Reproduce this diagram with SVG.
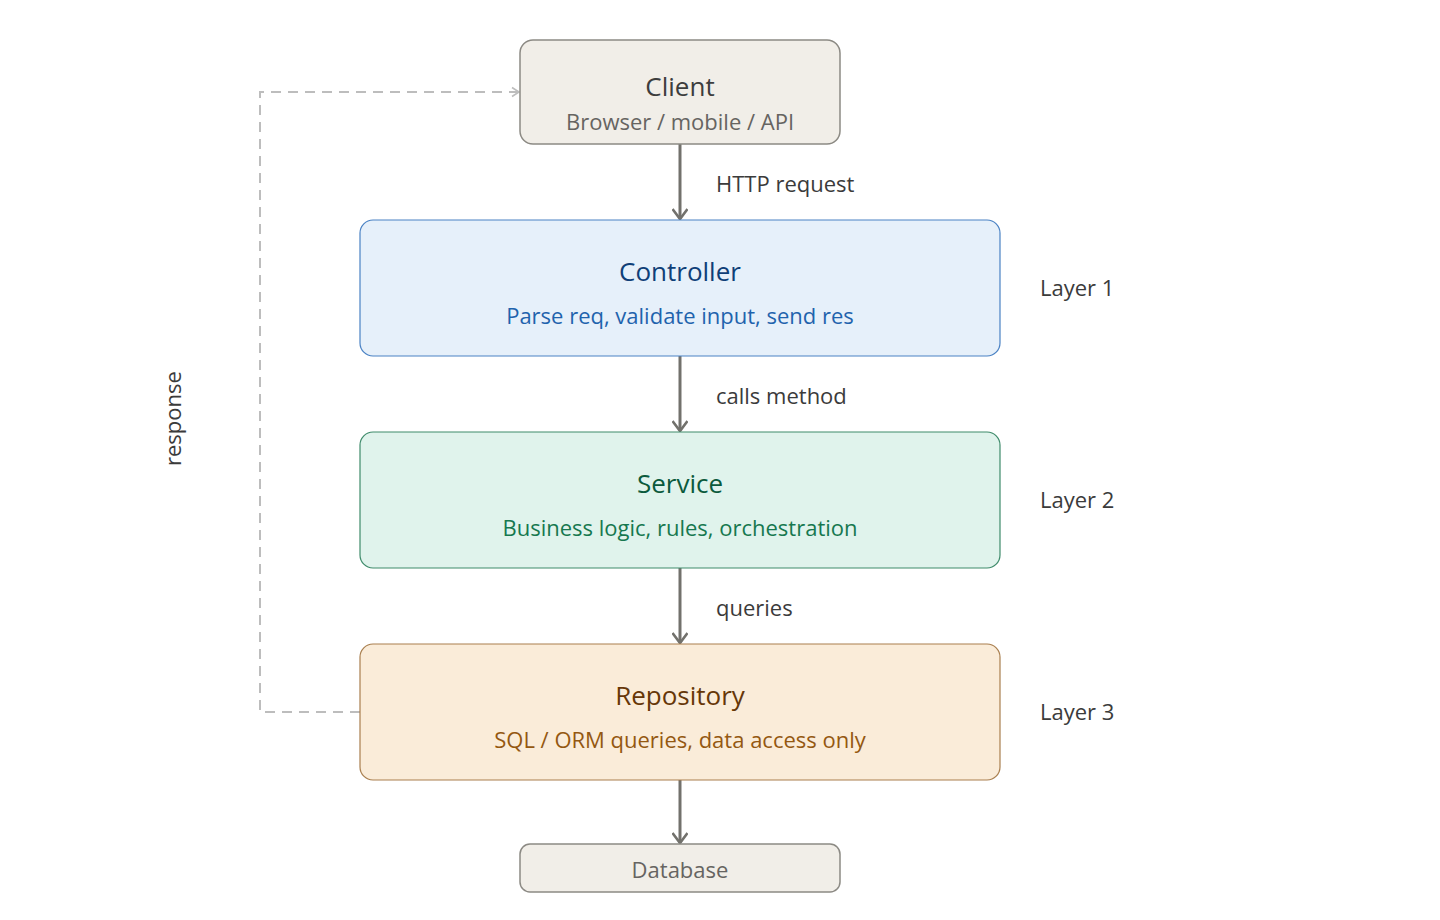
<svg xmlns="http://www.w3.org/2000/svg" width="1440" height="920" viewBox="0 0 1440 920">
<style>
text{font-family:"Open Sans","Noto Sans","Liberation Sans",sans-serif;text-anchor:middle}
.t{font-size:26px}
.s{font-size:22px}
.lbl{font-size:22px;fill:#3b3b3b;text-anchor:start}
.conn{stroke:#72716c;stroke-width:3;fill:none}
.resp{stroke:#bdbdbd;stroke-width:2;fill:none;stroke-dasharray:10 7}
</style>
<defs>
<marker id="ah" viewBox="0 0 16 16" refX="12" refY="8" markerWidth="16" markerHeight="16" markerUnits="userSpaceOnUse" orient="auto">
<path d="M2,0.5 L12,8 L2,15.5" fill="none" stroke="#72716c" stroke-width="2.6"/>
</marker>
<marker id="ahr" viewBox="0 0 12 12" refX="10" refY="6" markerWidth="12" markerHeight="12" markerUnits="userSpaceOnUse" orient="auto">
<path d="M3,1.5 L10,6 L3,10.5" fill="none" stroke="#bdbdbd" stroke-width="1.6"/>
</marker>
</defs>
<rect width="1440" height="920" fill="#ffffff"/>
<g id="connectors">
<line class="conn" x1="680" y1="144" x2="680" y2="219" marker-end="url(#ah)"/>
<line class="conn" x1="680" y1="356" x2="680" y2="431" marker-end="url(#ah)"/>
<line class="conn" x1="680" y1="568" x2="680" y2="643" marker-end="url(#ah)"/>
<line class="conn" x1="680" y1="780" x2="680" y2="843" marker-end="url(#ah)"/>
<path class="resp" d="M360,712 H260 V92 H519" marker-end="url(#ahr)"/>
<text class="lbl" x="716" y="192">HTTP request</text>
<text class="lbl" x="716" y="404">calls method</text>
<text class="lbl" x="716" y="616">queries</text>
<text class="lbl" transform="translate(181,466) rotate(-90)">response</text>
</g>
<g id="client">
<rect x="520" y="40" width="320" height="104" rx="13" fill="#f1eee8" stroke="#8c8a84" stroke-width="1.5"/>
<text class="t" x="680" y="96" fill="#3d3d3d">Client</text>
<text class="s" x="680" y="130" fill="#666461">Browser / mobile / API</text>
</g>
<g id="controller">
<rect x="360" y="220" width="640" height="136" rx="13" fill="#e6f0fa" stroke="#4a82c4" stroke-width="1.2"/>
<text class="t" x="680" y="281" fill="#0f3f78">Controller</text>
<text class="s" x="680" y="324" fill="#1f63ad">Parse req, validate input, send res</text>
</g>
<g id="service">
<rect x="360" y="432" width="640" height="136" rx="13" fill="#e0f3ec" stroke="#3f8b6b" stroke-width="1.2"/>
<text class="t" x="680" y="493" fill="#0b5a3c">Service</text>
<text class="s" x="680" y="536" fill="#16784f">Business logic, rules, orchestration</text>
</g>
<g id="repository">
<rect x="360" y="644" width="640" height="136" rx="13" fill="#faecd9" stroke="#a97f4f" stroke-width="1.2"/>
<text class="t" x="680" y="705" fill="#663708">Repository</text>
<text class="s" x="680" y="748" fill="#945811">SQL / ORM queries, data access only</text>
</g>
<g id="database">
<rect x="520" y="844" width="320" height="48" rx="10" fill="#f1eee8" stroke="#8c8a84" stroke-width="1.5"/>
<text class="s" x="680" y="878" fill="#666461">Database</text>
</g>
<g id="layers">
<text class="lbl" x="1040" y="296">Layer 1</text>
<text class="lbl" x="1040" y="508">Layer 2</text>
<text class="lbl" x="1040" y="720">Layer 3</text>
</g>
</svg>
